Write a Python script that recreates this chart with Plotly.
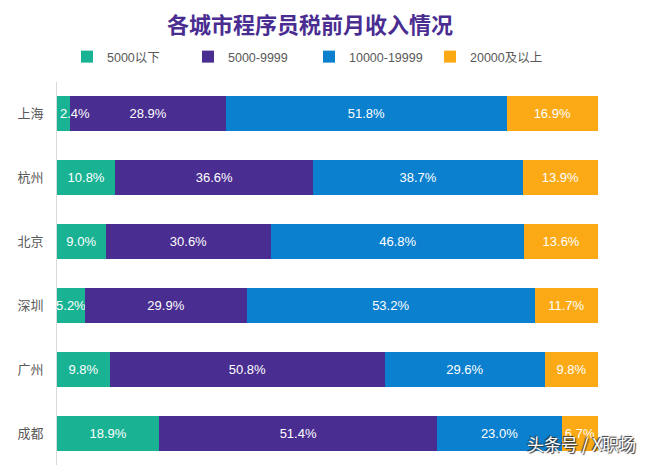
import plotly.graph_objects as go

cities = ["上海", "杭州", "北京", "深圳", "广州", "成都"]
series_names = ["5000以下", "5000-9999", "10000-19999", "20000及以上"]
s1 = [2.4, 10.8, 9.0, 5.2, 9.8, 18.9]
s2 = [28.9, 36.6, 30.6, 29.9, 50.8, 51.4]
s3 = [51.8, 38.7, 46.8, 53.2, 29.6, 23.0]
s4 = [16.9, 13.9, 13.6, 11.7, 9.8, 6.7]
colors = ["#19b394", "#4a2d91", "#0a80cf", "#fbaa16"]

# page has an 8px body margin; figure is sized to fill the remaining window
OFF = 8
W, H = 657 - OFF, 476 - OFF

label_font = dict(color="white", size=13, family="Liberation Sans, Arial")
fig = go.Figure()
annotations = []
for i, (name, vals, col) in enumerate(zip(series_names, [s1, s2, s3, s4], colors)):
    texts = []
    for c, v in zip(cities, vals):
        if i == 0 and v < 4:
            texts.append("")
            annotations.append(dict(x=0, y=c, xref="x", yref="y", text=f"{v:.1f}%",
                                    xanchor="left", yanchor="middle", xshift=1,
                                    showarrow=False, font=label_font))
        else:
            texts.append(f"{v:.1f}%")
    fig.add_trace(go.Bar(
        y=cities, x=vals, name=name, orientation="h",
        marker=dict(color=col, line=dict(width=0)),
        text=texts,
        textposition="inside", insidetextanchor="middle", textangle=0,
        textfont=label_font,
        hoverinfo="skip",
    ))

annotations.append(dict(text="头条号 / X职场", x=(638 - 57) / 541, y=0.055, xref="paper",
                        yref="paper", xanchor="right", yanchor="middle", showarrow=False,
                        font=dict(size=17, color="white", family="Noto Sans CJK SC",
                                  shadow="1px 1px 1px #333, -1px -1px 1px #333")))

fig.update_layout(
    barmode="stack", bargap=0.45,
    width=W, height=H,
    paper_bgcolor="white", plot_bgcolor="white",
    margin=dict(l=57 - OFF, r=W - (598 - OFF), t=82 - OFF, b=H - (465 - OFF), autoexpand=False),
    title=dict(text="<b>各城市程序员税前月收入情况</b>", x=(310 - OFF) / W, xanchor="center",
               xref="container", yref="container",
               y=1 - (25 - OFF) / H, yanchor="middle",
               font=dict(size=22, color="#4a2d91", family="Noto Sans CJK SC")),
    legend=dict(orientation="h", x=(67 - OFF) / W, xanchor="left", xref="container",
                yref="container", y=1 - (57 - OFF) / H, yanchor="middle",
                font=dict(size=12.5, color="#595959", family="Liberation Sans, Noto Sans CJK SC"),
                entrywidth=76, itemwidth=30, traceorder="normal"),
    uniformtext=dict(mode="show", minsize=13),
    font=dict(family="Noto Sans CJK SC"),
    annotations=annotations,
)
fig.update_xaxes(range=[0, 100], showgrid=False, showticklabels=False, zeroline=False,
                 showline=False, fixedrange=True, automargin=False)
fig.update_yaxes(autorange="reversed", showgrid=False, showline=True, linecolor="#d9d9d9",
                 linewidth=1, ticks="", ticklabelstandoff=10, automargin=False,
                 tickfont=dict(size=13, color="#595959", family="Noto Sans CJK SC"))

fig.write_html("out.html", config={"displayModeBar": False})
